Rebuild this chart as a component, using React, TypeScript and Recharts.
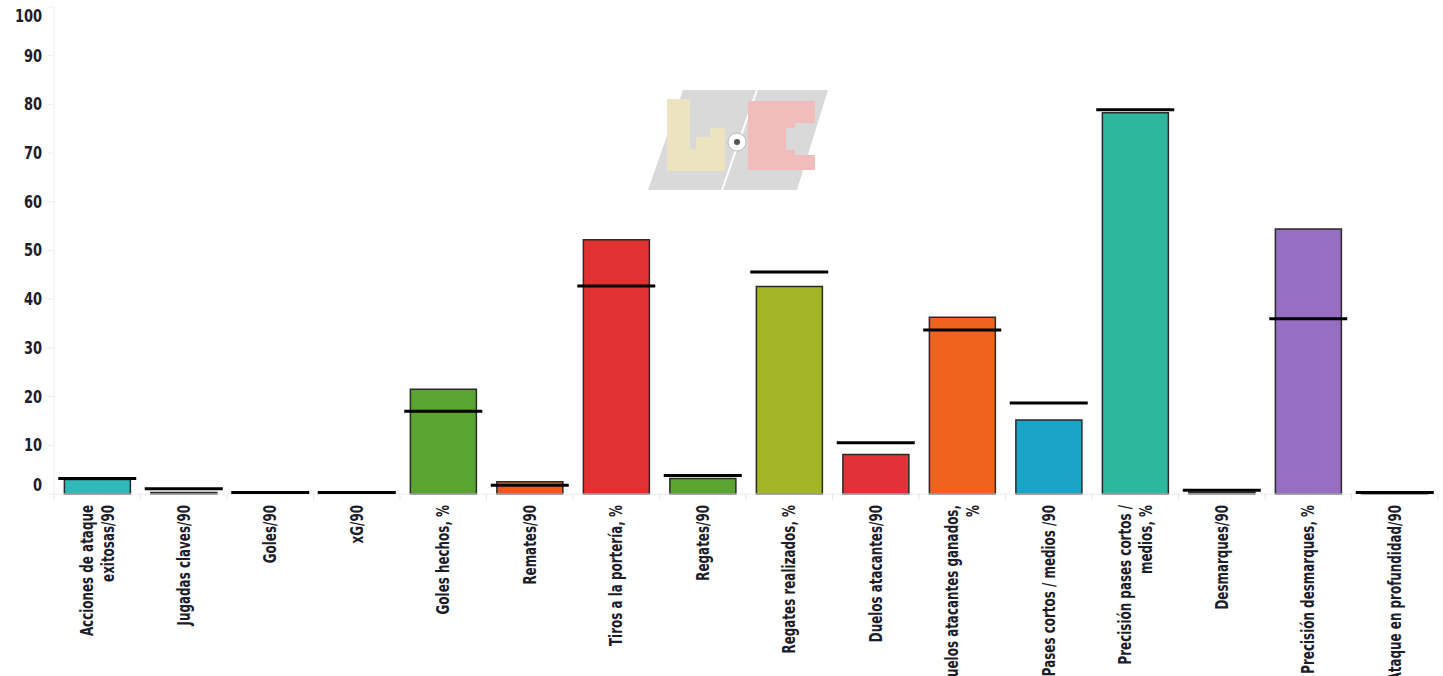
import React from 'react';
import { ComposedChart, Bar, Line, XAxis, YAxis, Cell } from 'recharts';

// Etiquetas de categoría (\n = salto de línea en el eje)
const categories = [
  'Acciones de ataque\nexitosas/90',
  'Jugadas claves/90',
  'Goles/90',
  'xG/90',
  'Goles hechos, %',
  'Remates/90',
  'Tiros a la portería, %',
  'Regates/90',
  'Regates realizados, %',
  'Duelos atacantes/90',
  'Duelos atacantes ganados,\n%',
  'Pases cortos / medios /90',
  'Precisión pases cortos /\nmedios, %',
  'Desmarques/90',
  'Precisión desmarques, %',
  'Ataque en profundidad/90',
];

const playerValues = [3.0, 0.3, 0, 0, 21.5, 2.5, 52.2, 3.2, 42.6, 8.1, 36.3, 15.2, 78.3, 0.35, 54.4, 0.25];
const averageValues = [3.2, 1.1, 0.3, 0.3, 17.0, 1.8, 42.7, 3.8, 45.6, 10.5, 33.7, 18.7, 78.9, 0.75, 36.0, 0.3];

const barColors = [
  '#30b8bb', '#9e9e9e', '#5aa532', '#5aa532', '#5aa532', '#ef5a1e', '#e03230', '#5aa532',
  '#a4b526', '#e03238', '#f0621e', '#1ca3c8', '#2cb69c', '#d474d0', '#966fc2', '#1f3d2b',
];

const yTicks = [0, 10, 20, 30, 40, 50, 60, 70, 80, 90, 100];

const data = categories.map((name, i) => ({
  name,
  value: playerValues[i],
  avg: averageValues[i],
}));

const FONT = "'Liberation Sans Narrow', 'DejaVu Sans Condensed', sans-serif";
const TEXT = '#1c1c2a';

const YTick = (props: any) => {
  const { x, y, payload } = props;
  let shift = 0;
  if (payload.value === 100) shift = 9;
  if (payload.value === 0) shift = -9;
  return (
    <text
      transform={`translate(${x},${y + shift}) scale(0.85,1)`}
      dy="0.35em"
      textAnchor="end"
      fontFamily={FONT}
      fontSize={17}
      fontWeight="bold"
      fill={TEXT}
    >
      {payload.value}
    </text>
  );
};

const XTick = (props: any) => {
  const { x, y, payload, index } = props;
  const lines = String(payload.value).split('\n');
  const lh = 21;
  const half = 1384 / 16 / 2;
  return (
    <g>
      <line x1={x - half} x2={x - half} y1={y - 2} y2={y + 4} stroke="#e6e6e6" />
      {index === categories.length - 1 && (
        <line x1={x + half} x2={x + half} y1={y - 2} y2={y + 4} stroke="#e6e6e6" />
      )}
      <text
        transform={`translate(${x},${y + 9}) rotate(-90) scale(0.78,1)`}
        textAnchor="end"
        fontFamily={FONT}
        fontSize={17}
        fontWeight="bold"
        fill={TEXT}
      >
        {lines.map((l, i) => (
          <tspan key={i} x={0} y={(i - (lines.length - 1) / 2) * lh} dy="0.35em">
            {l}
          </tspan>
        ))}
      </text>
    </g>
  );
};

const AvgDash = (props: any) => {
  const { cx, cy, index } = props;
  if (cx == null || cy == null) return <g key={index} />;
  return <line key={index} x1={cx - 39} x2={cx + 39} y1={cy} y2={cy} stroke="#000" strokeWidth={3} />;
};

const Watermark = () => (
  <svg width={200} height={120} style={{ position: 'absolute', left: 640, top: 80, pointerEvents: 'none' }}>
    <polygon points="43,10 188,10 157,110 8,110" fill="#d9d9d9" />
    <line x1={117} y1={10} x2={82} y2={110} stroke="#fff" strokeWidth={2} />
    <path d="M27,19 h23 v50 h6 v-12 h14 v-9 h15 v43 h-58 z" fill="#ece3c1" />
    <path d="M108,21 h67 v22 h-20 v5 h-9 v22 h9 v5 h20 v15 h-67 z" fill="#f1bcbc" />
    <circle cx={97} cy={62} r={9} fill="#fff" stroke="#bbb" />
    <circle cx={97} cy={62} r={3} fill="#555" />
  </svg>
);

export default function App() {
  return (
    <div style={{ position: 'absolute', left: 0, top: 0, width: 1443, height: 676, background: '#fff' }}>
      <ComposedChart
        width={1443}
        height={676}
        data={data}
        margin={{ top: 7, right: 5, bottom: 0, left: 0 }}
        barCategoryGap="12%"
      >
        <YAxis
          type="number"
          domain={[0, 100]}
          ticks={yTicks}
          interval={0}
          width={54}
          tickSize={6}
          tickMargin={6}
          tick={<YTick />}
          tickLine={{ stroke: '#ececec' }}
          axisLine={{ stroke: '#ececec' }}
        />
        <XAxis
          dataKey="name"
          interval={0}
          height={182}
          tickLine={false}
          tickSize={0}
          tickMargin={2}
          axisLine={{ stroke: '#ececec' }}
          tick={<XTick />}
        />
        <Bar dataKey="value" stroke="#2a2a2a" strokeWidth={1.5} isAnimationActive={false}>
          {data.map((d, i) => (
            <Cell key={i} fill={barColors[i]} />
          ))}
        </Bar>
        <Line
          dataKey="avg"
          stroke="none"
          dot={<AvgDash />}
          activeDot={false}
          legendType="none"
          isAnimationActive={false}
        />
      </ComposedChart>
      <Watermark />
    </div>
  );
}
